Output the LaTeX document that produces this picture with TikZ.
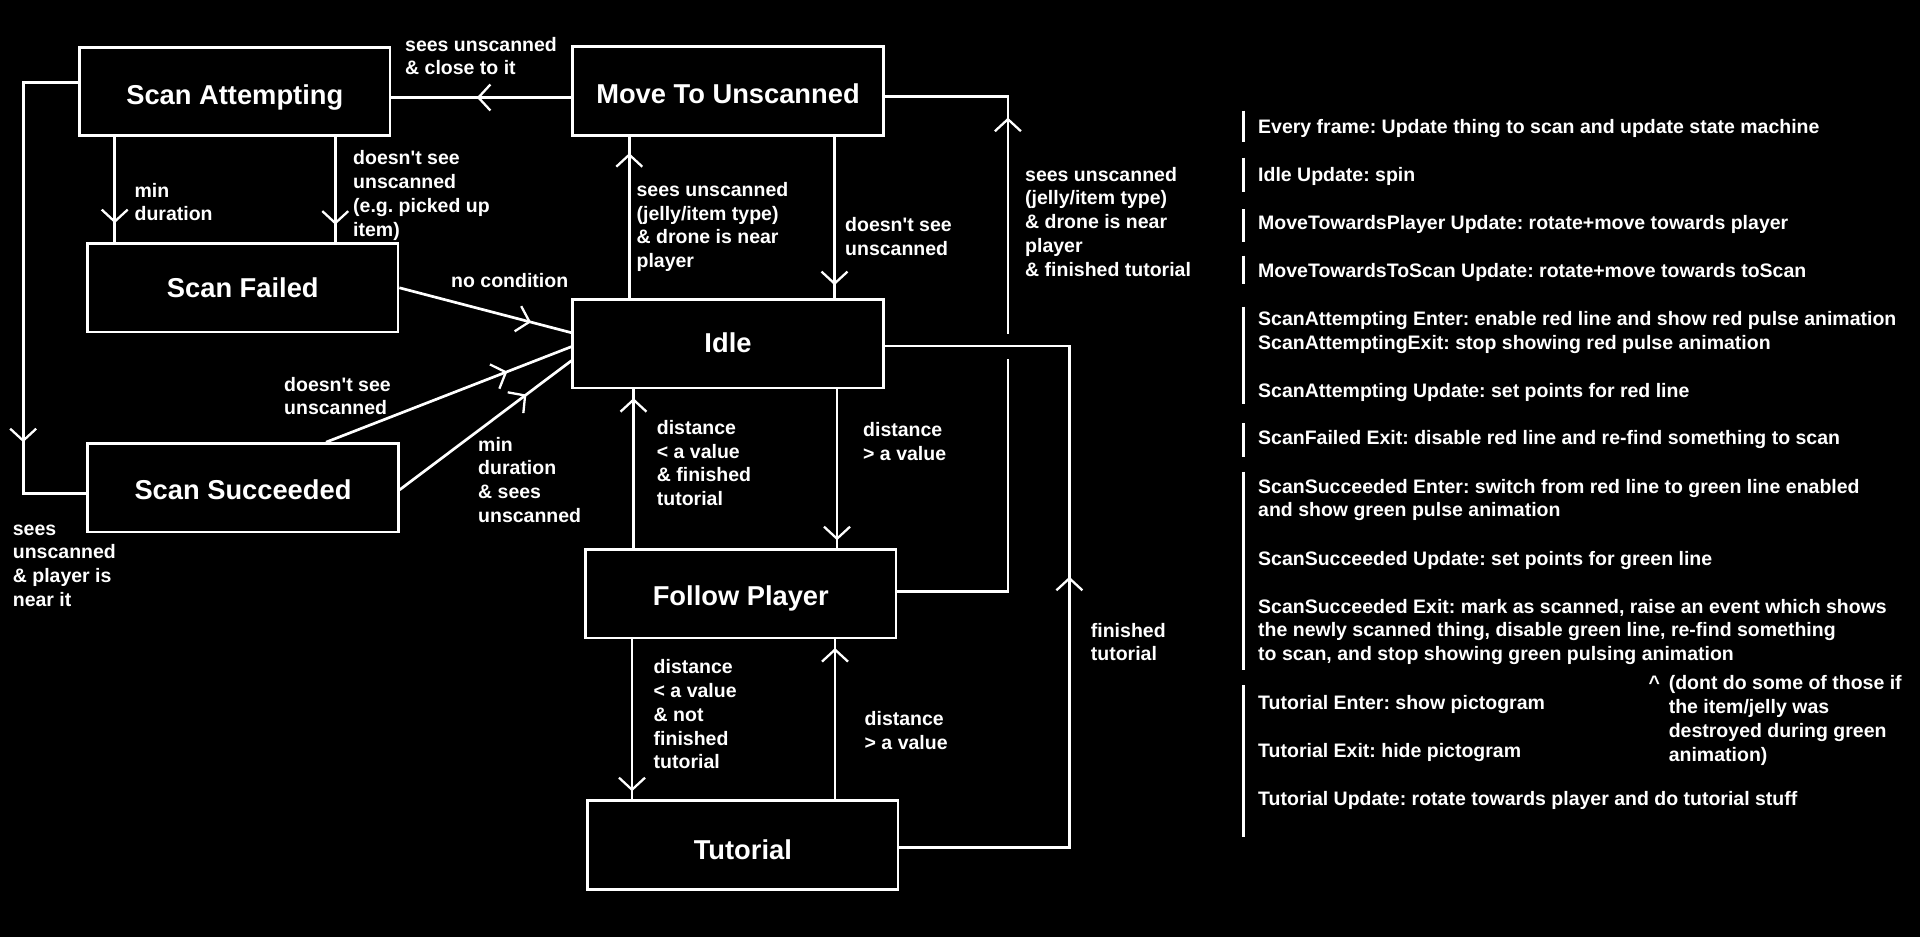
\documentclass[tikz,border=0pt]{standalone}
\usepackage{fontspec}
\setmainfont{Liberation Sans}
\usetikzlibrary{decorations.markings}
\tikzset{
  state/.style={draw=white, line width=2.7pt, fill=black, text=white,
    font=\fontsize{27.3}{30}\selectfont\bfseries, minimum width=310.5pt,
    minimum height=88.5pt, inner sep=0pt, text height=30pt, text depth=#1},
  state/.default=7pt,
  conn/.style={draw=white, line width=2.7pt},
  chev/.style={postaction={decorate, decoration={markings,
    mark=at position #1 with {\draw[white, line width=2.3pt, line join=miter] (-12pt,13pt) -- (0pt,0pt) -- (-12pt,-13pt);}}}},
  lbl/.style={text=white, font=\fontsize{19.5}{23.8}\selectfont\bfseries,
    anchor=north west, inner sep=0pt, align=left},
  bar/.style={draw=white, line width=3pt}
}
\newcommand{\apo}{\textquotesingle}
\frenchspacing
\begin{document}
\frenchspacing
\begin{tikzpicture}[x=1pt, y=-1pt]
\path[fill=black, use as bounding box] (0,0) rectangle (1920,937);

% states
\node[state=4.2pt]  (sa)   at (234.8,91.5)  {Scan Attempting};
\node[state=5pt]    (mtu)  at (728,91)      {Move To Unscanned};
\node[state=11.2pt] (sf)   at (242.8,287.8) {Scan Failed};
\node[state=13.6pt] (idle) at (728,343.8)   {Idle};
\node[state=6.6pt]  (ss)   at (243,487.8)   {Scan Succeeded};
\node[state=7.2pt]  (fp)   at (740.8,593.8) {Follow Player};
\node[state=0.2pt]  (tut)  at (742.8,845)   {Tutorial};

% connectors
\draw[conn, chev=93pt] ([yshift=-6.5pt]mtu.west) -- ([yshift=-6.5pt]mtu.west -| sa.east);
\draw[conn, chev=84.5pt] ([xshift=-120.1pt]sa.south) -- ([xshift=-120.1pt]sa.south |- sf.north);
\draw[conn, chev=86pt] ([xshift=100.5pt]sa.south) -- ([xshift=100.5pt]sa.south |- sf.north);
\draw[conn, chev=413.4pt] ([yshift=9.2pt]sa.west) -- ++(-55,0) |- ([yshift=-5.5pt]ss.west);
\draw[conn, chev=134.5pt] (sf.east) -- ([yshift=11.1pt]idle.west);
\draw[conn, chev=193pt] ([xshift=83pt]ss.north) -- ([yshift=-2.9pt]idle.west);
\draw[conn, chev=157pt] ([yshift=-2pt]ss.east) -- ([yshift=-16.9pt]idle.west);
\draw[conn, chev=143.5pt] ([xshift=-98.7pt]idle.north) -- ([xshift=-98.7pt]idle.north |- mtu.south);
\draw[conn, chev=147pt] ([xshift=106.5pt]mtu.south) -- ([xshift=106.5pt]mtu.south |- idle.north);
\draw[conn, chev=583pt] ([yshift=2.1pt]fp.east) -- ++(110.5,0) |- ([yshift=-5.7pt]mtu.east);
\fill[black] (1000,333.5) rectangle (1014,358.5);
\draw[conn, chev=149.3pt] ([xshift=109pt]idle.south) -- ([xshift=109pt]idle.south |- fp.north);
\draw[conn, chev=148.5pt] ([xshift=-107.3pt]fp.north) -- ([xshift=-107.3pt]fp.north |- idle.south);
\draw[conn, chev=439pt] ([yshift=-2.3pt]tut.east) -- ++(170,0) |- ([yshift=-2.2pt]idle.east);
\draw[conn, chev=150.3pt] ([xshift=-108.8pt]fp.south) -- ([xshift=-108.8pt]fp.south |- tut.north);
\draw[conn, chev=149.8pt] ([xshift=92.2pt]tut.north) -- ([xshift=92.2pt]tut.north |- fp.south);

% connector labels
\node[lbl] (l1)  at (405,34.2)    {\strut sees unscanned\\\& close to it};
\node[lbl] (l2)  at (134.4,180.2) {\strut min\\duration};
\node[lbl] (l3)  at (353,147.9)   {\strut doesn\apo t see\\unscanned\\(e.g. picked up\\item)};
\node[lbl] (l4)  at (12.7,518.2)  {\strut sees\\unscanned\\\& player is\\near it};
\node[lbl] (l5)  at (451,270.2)   {\strut no condition};
\node[lbl] (l6)  at (284,374.2)   {\strut doesn\apo t see\\unscanned};
\node[lbl] (l7)  at (478,434.2)   {\strut min\\duration\\\& sees\\unscanned};
\node[lbl] (l8)  at (636.4,179.5) {\strut sees unscanned\\(jelly/item type)\\\& drone is near\\player};
\node[lbl] (l9)  at (845,214.5)   {\strut doesn\apo t see\\unscanned};
\node[lbl] (l10) at (1025,164.2)  {\strut sees unscanned\\(jelly/item type)\\\& drone is near\\player\\\& finished tutorial};
\node[lbl] (l11) at (863,419.5)   {\strut distance\\> a value};
\node[lbl] (l12) at (656.7,417.5) {\strut distance\\< a value\\\& finished\\tutorial};
\node[lbl] (l13) at (1090.7,620.2){\strut finished\\tutorial};
\node[lbl] (l14) at (653.5,656.9) {\strut distance\\< a value\\\& not\\finished\\tutorial};
\node[lbl] (l15) at (864.5,708.5) {\strut distance\\> a value};

% notes panel
\draw[bar] (1243.3,110.7) -- (1243.3,142.3);
\draw[bar] (1243.3,157.7) -- (1243.3,192.3);
\draw[bar] (1243.3,209) -- (1243.3,242.3);
\draw[bar] (1243.3,255.7) -- (1243.3,284.3);
\draw[bar] (1243.3,306.7) -- (1243.3,404.3);
\draw[bar] (1243.3,423.3) -- (1243.3,457);
\draw[bar] (1243.3,471.7) -- (1243.3,670);
\draw[bar] (1243.3,685) -- (1243.3,836.7);

\node[lbl] (t1)  at (1258,116.2) {\strut Every frame: Update thing to scan and update state machine};
\node[lbl] (t2)  at (1258,164.2) {\strut Idle Update: spin};
\node[lbl] (t3)  at (1258,212.5) {\strut MoveTowardsPlayer Update: rotate+move towards player};
\node[lbl] (t4)  at (1258,260.2) {\strut MoveTowardsToScan Update: rotate+move towards toScan};
\node[lbl] (t5)  at (1258,308.5) {\strut ScanAttempting Enter: enable red line and show red pulse animation\\ScanAttemptingExit: stop showing red pulse animation};
\node[lbl] (t6)  at (1258,380.2) {\strut ScanAttempting Update: set points for red line};
\node[lbl] (t7)  at (1258,427.9) {\strut ScanFailed Exit: disable red line and re-find something to scan};
\node[lbl] (t8)  at (1258,476.2) {\strut ScanSucceeded Enter: switch from red line to green line enabled\\and show green pulse animation};
\node[lbl] (t9)  at (1258,548.5) {\strut ScanSucceeded Update: set points for green line};
\node[lbl] (t10) at (1258,596.2) {\strut ScanSucceeded Exit: mark as scanned, raise an event which shows\\the newly scanned thing, disable green line, re-find something\\to scan, and stop showing green pulsing animation};
\node[lbl] (t11) at (1258,692.5) {\strut Tutorial Enter: show pictogram};
\node[lbl] (t12) at (1258,740.2) {\strut Tutorial Exit: hide pictogram};
\node[lbl] (t13) at (1258,788.5) {\strut Tutorial Update: rotate towards player and do tutorial stuff};
\node[lbl] (t14a) at (1648.5,672.9) {\strut\textasciicircum};
\node[lbl] (t14b) at (1668.6,672.9) {\strut (dont do some of those if\\the item/jelly was\\destroyed during green\\animation)};
\end{tikzpicture}
\end{document}
